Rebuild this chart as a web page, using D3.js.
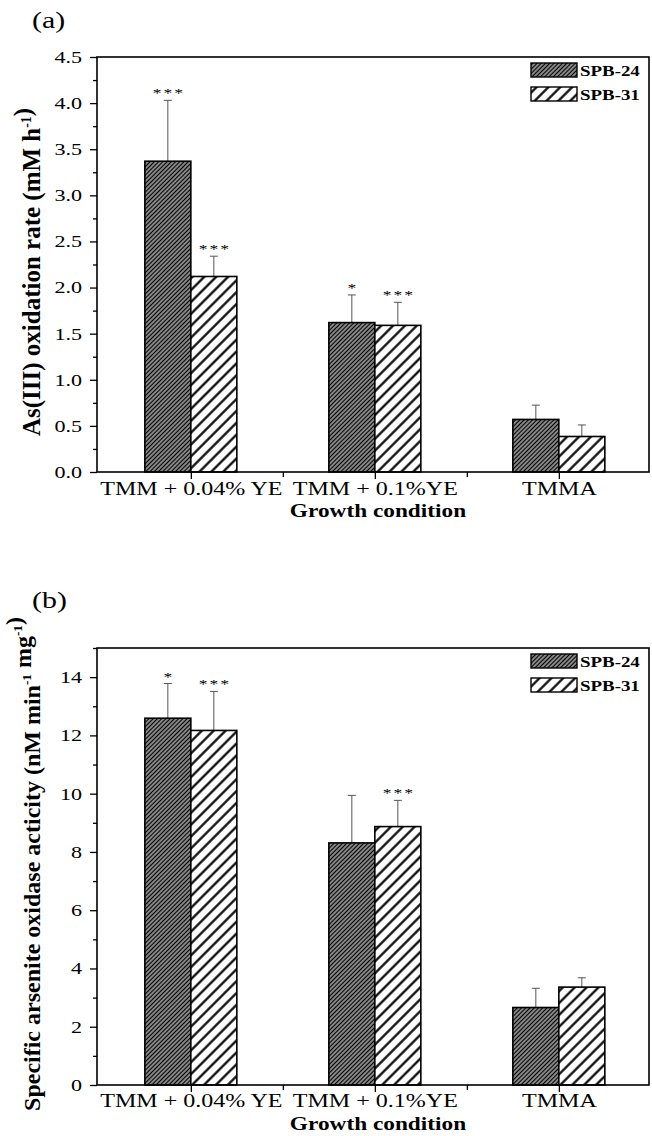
<!DOCTYPE html>
<html>
<head>
<meta charset="utf-8">
<script src="https://cdn.jsdelivr.net/npm/d3@7"></script>
<style>
  html, body { margin: 0; padding: 0; background: #fff; }
  svg { display: block; }
  text { font-family: "Liberation Serif", "Times New Roman", serif; fill: #000; }
</style>
</head>
<body>
<svg id="chart" width="652" height="1136"></svg>
<script>
// ---------------- DATA ----------------
const categories = ["TMM + 0.04% YE", "TMM + 0.1%YE", "TMMA"];
const seriesNames = ["SPB-24", "SPB-31"];

// Panel (a): As(III) oxidation rate (mM h-1)
const rateSPB24 = [3.37, 1.62, 0.57];
const rateSPB31 = [2.12, 1.59, 0.385];
const rateErrSPB24 = [0.66, 0.30, 0.155];
const rateErrSPB31 = [0.22, 0.25, 0.125];
const rateSigSPB24 = ["***", "*", ""];
const rateSigSPB31 = ["***", "***", ""];
const rateTicks = [0.0, 0.5, 1.0, 1.5, 2.0, 2.5, 3.0, 3.5, 4.0, 4.5];

// Panel (b): Specific arsenite oxidase activity (nM min-1 mg-1)
const actSPB24 = [12.59, 8.31, 2.66];
const actSPB31 = [12.17, 8.87, 3.36];
const actErrSPB24 = [1.19, 1.63, 0.66];
const actErrSPB31 = [1.34, 0.90, 0.32];
const actSigSPB24 = ["*", "", ""];
const actSigSPB31 = ["***", "***", ""];
const actTicks = [0, 2, 4, 6, 8, 10, 12, 14];

// ---------------- DRAW ----------------
const SX = 1.3; // horizontal stretch of the lettering in the figure
const svg = d3.select("#chart");
const defs = svg.append("defs");

function stretch(sel, sx) {
  sel.each(function () {
    const t = d3.select(this);
    const x = +t.attr("x") || 0, y = +t.attr("y") || 0;
    t.attr("x", 0).attr("y", 0).attr("transform", `translate(${x},${y}) scale(${sx},1)`);
  });
}

function hatch(id, spacing, sw) {
  const p = defs.append("pattern")
    .attr("id", id)
    .attr("patternUnits", "userSpaceOnUse")
    .attr("width", spacing).attr("height", spacing)
    .attr("patternTransform", "rotate(45)");
  p.append("rect").attr("width", spacing).attr("height", spacing).attr("fill", "#fff");
  p.append("line").attr("x1", spacing / 2).attr("y1", -1).attr("x2", spacing / 2).attr("y2", spacing + 1)
    .attr("stroke", "#000").attr("stroke-width", sw);
}
hatch("hDense", 3.0, 1.95);
hatch("hSparse", 8.4, 2.2);
const fills = ["url(#hDense)", "url(#hSparse)"];

function drawPanel(cfg) {
  const g = svg.append("g");
  const x = d3.scaleLinear().domain([0.49, 3.49]).range([cfg.left, cfg.right]);
  const y = d3.scaleLinear().domain([0, cfg.ymax]).range([cfg.bottom, cfg.top]);
  const barW = 0.25;

  // panel letter
  g.append("text").attr("x", 32).attr("y", cfg.letterY)
    .attr("font-size", 23).text(cfg.letter)
    .call(s => stretch(s, SX));

  // y axis
  const yAxis = d3.axisLeft(y).tickValues(cfg.ticks).tickSize(7).tickPadding(8)
    .tickFormat(cfg.fmt);
  const ya = g.append("g").attr("transform", `translate(${cfg.left},0)`).call(yAxis);
  ya.select(".domain").remove();
  ya.selectAll("text").attr("font-size", 17).attr("font-family", "Liberation Serif")
    .attr("fill", "#000").call(s => stretch(s, SX));
  ya.selectAll("line").attr("stroke-width", 1.3);
  const minor = d3.range(cfg.minorStep, cfg.ymax + 1e-9, cfg.minorStep * 2);
  g.append("g").attr("transform", `translate(${cfg.left},0)`)
    .call(d3.axisLeft(y).tickValues(minor).tickSize(4).tickFormat(""))
    .call(s => s.select(".domain").remove())
    .selectAll("line").attr("stroke-width", 1.3);

  // x axis
  const xa = g.append("g").attr("transform", `translate(0,${cfg.bottom})`)
    .call(d3.axisBottom(x).tickValues([1, 2, 3]).tickSize(7).tickPadding(cfg.xPad)
      .tickFormat((d, i) => categories[i]));
  xa.select(".domain").remove();
  xa.selectAll("text").attr("font-size", 18.5).attr("font-family", "Liberation Serif")
    .attr("fill", "#000").call(s => stretch(s, SX));
  xa.selectAll("line").attr("stroke-width", 1.3);
  g.append("g").attr("transform", `translate(0,${cfg.bottom})`)
    .call(d3.axisBottom(x).tickValues([1.5, 2.5]).tickSize(5).tickFormat(""))
    .call(s => s.select(".domain").remove())
    .selectAll("line").attr("stroke-width", 1.3);

  // bars
  const series = [
    { vals: cfg.s24, err: cfg.e24, sig: cfg.g24, off: -barW, fill: fills[0] },
    { vals: cfg.s31, err: cfg.e31, sig: cfg.g31, off: 0, fill: fills[1] }
  ];
  series.forEach(s => {
    const bars = g.append("g");
    s.vals.forEach((v, i) => {
      const c = i + 1;
      const x0 = x(c + s.off), x1 = x(c + s.off + barW);
      const cx = (x0 + x1) / 2;
      const yTop = y(v), yCap = y(v + s.err[i]);
      bars.append("line").attr("x1", cx).attr("x2", cx).attr("y1", yTop).attr("y2", yCap)
        .attr("stroke", "#555").attr("stroke-width", 1);
      bars.append("line").attr("x1", cx - 4).attr("x2", cx + 4).attr("y1", yCap).attr("y2", yCap)
        .attr("stroke", "#555").attr("stroke-width", 1);
      bars.append("rect").attr("x", x0).attr("y", yTop)
        .attr("width", x1 - x0).attr("height", y(0) - yTop)
        .attr("fill", s.fill).attr("stroke", "#000").attr("stroke-width", 1.6);
      if (s.sig[i]) {
        bars.append("text").attr("x", cx + 1).attr("y", yCap - 3)
          .attr("text-anchor", "middle").attr("font-size", 13.5)
          .attr("letter-spacing", 1.5).attr("fill", "#444")
          .text(s.sig[i]).call(t => stretch(t, SX));
      }
    });
  });

  // frame
  g.append("rect").attr("x", cfg.left).attr("y", cfg.top)
    .attr("width", cfg.right - cfg.left).attr("height", cfg.bottom - cfg.top)
    .attr("fill", "none").attr("stroke", "#000").attr("stroke-width", 1.6);

  // legend
  seriesNames.forEach((n, i) => {
    const ly = cfg.top + 6 + i * 24;
    g.append("rect").attr("x", 531).attr("y", ly).attr("width", 46).attr("height", 14)
      .attr("fill", fills[i]).attr("stroke", "#000").attr("stroke-width", 1.4);
    g.append("text").attr("x", 580).attr("y", ly + 13)
      .attr("font-size", 15.5).attr("font-weight", "bold").text(n)
      .call(t => stretch(t, 1.22));
  });

  // x title
  g.append("text").attr("x", 378).attr("y", cfg.titleY)
    .attr("text-anchor", "middle").attr("font-size", 18.5).attr("font-weight", "bold")
    .text("Growth condition").call(t => stretch(t, 1.26));

  // y title
  const yt = g.append("text")
    .attr("transform", `translate(${cfg.ytx},${cfg.ytc}) rotate(-90)`)
    .attr("text-anchor", "middle").attr("font-size", cfg.ytSize).attr("font-weight", "bold");
  cfg.ytitle.forEach(part => {
    if (part.sup) {
      yt.append("tspan").attr("dy", -9).attr("font-size", cfg.ytSize * 0.55).text(part.t);
      yt.append("tspan").attr("dy", 9).text("");
    } else {
      yt.append("tspan").text(part.t);
    }
  });
}

drawPanel({
  letter: "(a)", letterY: 28, top: 57, bottom: 472, left: 97, right: 649, ymax: 4.5,
  ticks: rateTicks, minorStep: 0.25, fmt: d3.format(".1f"), xPad: 3, titleY: 517,
  s24: rateSPB24, s31: rateSPB31, e24: rateErrSPB24, e31: rateErrSPB31,
  g24: rateSigSPB24, g31: rateSigSPB31,
  ytx: 40, ytc: 272, ytSize: 25,
  ytitle: [{ t: "As(III) oxidation rate (mM h" }, { t: "-1", sup: true }, { t: ")" }]
});

drawPanel({
  letter: "(b)", letterY: 608, top: 648, bottom: 1085, left: 97, right: 649, ymax: 15,
  ticks: actTicks, minorStep: 1, fmt: d3.format("d"), xPad: 2, titleY: 1130,
  s24: actSPB24, s31: actSPB31, e24: actErrSPB24, e31: actErrSPB31,
  g24: actSigSPB24, g31: actSigSPB31,
  ytx: 40, ytc: 864, ytSize: 24,
  ytitle: [{ t: "Specific arsenite oxidase acticity (nM min" }, { t: "-1", sup: true },
           { t: " mg" }, { t: "-1", sup: true }, { t: ")" }]
});
</script>
</body>
</html>
